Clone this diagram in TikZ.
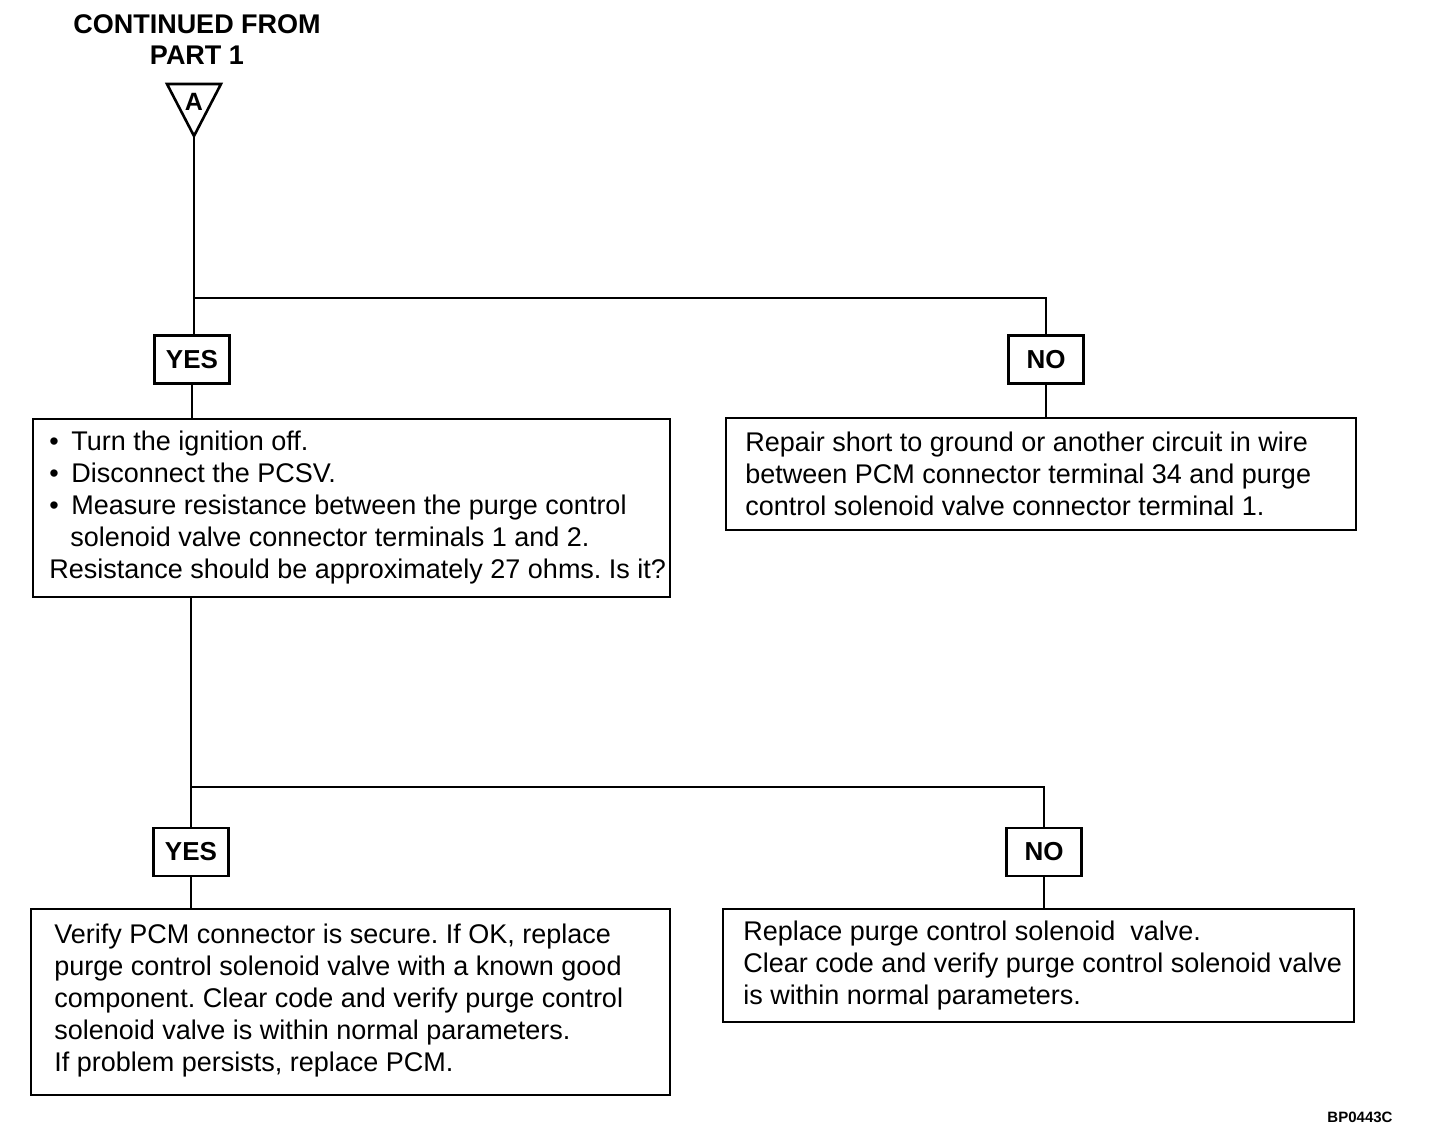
\documentclass[tikz,border=0pt]{standalone}
\usepackage{fontspec}
\setmainfont{Liberation Sans}
\begin{document}
\frenchspacing
\begin{tikzpicture}[x=1pt,y=-1pt,line width=2.6pt,
  box/.style={draw, rectangle, inner sep=0pt},
  yn/.style={draw, rectangle, minimum width=75pt, minimum height=48pt, inner sep=0pt, font=\fontsize{26}{30}\selectfont\bfseries},
  body/.style={anchor=west, inner sep=0pt, align=left, font=\fontsize{27}{32}\selectfont},
  conn/.style={line width=2.8pt}]
\useasboundingbox[fill=white] (0,0) rectangle (1440,1142);

% title
\node[align=center, inner sep=0pt, font=\fontsize{27}{31}\selectfont\bfseries] (title) at (197,40) {CONTINUED FROM\\PART 1};

% off-page connector triangle
\coordinate (tl) at (167,84);
\coordinate (tr) at (221,84);
\coordinate (apex) at (194,136);
\draw[line join=miter] (tl) -- (tr) -- (apex) -- cycle;
\node[inner sep=0pt, font=\fontsize{25}{27}\selectfont\bfseries] (A) at (194,102) {A};

% first decision
\node[yn] (yes1) at (192,359.5) {YES};
\node[yn] (no1) at (1046,359.5) {NO};
\coordinate (j1) at (194,298);

\node[box, minimum width=637pt, minimum height=178pt] (b1) at (351.5,508) {};
\node[body] (t1) at (48,508) {\makebox[22pt][l]{\textbullet}Turn the ignition off.\\
\makebox[22pt][l]{\textbullet}Disconnect the PCSV.\\
\makebox[22pt][l]{\textbullet}Measure resistance between the purge control\\
\hspace*{21pt}solenoid valve connector terminals 1 and 2.\\
Resistance should be approximately 27 ohms. Is it?};

\node[box, minimum width=630pt, minimum height=112pt] (b2) at (1041,474) {};
\node[body] (t2) at (744,474) {Repair short to ground or another circuit in wire\\
between PCM connector terminal 34 and purge\\
control solenoid valve connector terminal 1.};

\draw[conn] (apex) -- (apex |- yes1.north);
\draw[conn] (j1) -| (no1.north);
\draw[conn] (yes1.south) -- (yes1.south |- b1.north);
\draw[conn] (no1.south) -- (no1.south |- b2.north);

% second decision
\node[yn] (yes2) at (191,852) {YES};
\node[yn] (no2) at (1044,852) {NO};
\coordinate (j2) at (191,787);

\node[box, minimum width=639pt, minimum height=186pt] (b3) at (350.5,1002) {};
\node[body] (t3) at (53,1001) {Verify PCM connector is secure. If OK, replace\\
purge control solenoid valve with a known good\\
component. Clear code and verify purge control\\
solenoid valve is within normal parameters.\\
If problem persists, replace PCM.};

\node[box, minimum width=631pt, minimum height=113pt] (b4) at (1038.5,965.5) {};
\node[body] (t4) at (742,966) {Replace purge control solenoid\ \ valve.\\
Clear code and verify purge control solenoid valve\\
is within normal parameters.};

\draw[conn] (yes2.north |- b1.south) -- (yes2.north);
\draw[conn] (j2) -| (no2.north);
\draw[conn] (yes2.south) -- (yes2.south |- b3.north);
\draw[conn] (no2.south) -- (no2.south |- b4.north);

% figure code
\node[inner sep=0pt, font=\fontsize{15}{17}\selectfont\bfseries] (code) at (1360,1117) {BP0443C};
\end{tikzpicture}
\end{document}
